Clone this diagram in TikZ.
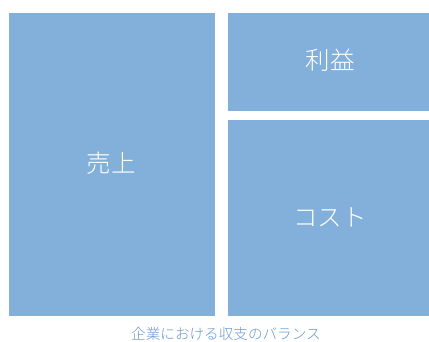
\documentclass[tikz,border=0pt]{standalone}
\usepackage{fontspec}
\newfontfamily\cjk{Noto Sans CJK JP Light}
\definecolor{boxblue}{HTML}{83AFDB}
\definecolor{captblue}{HTML}{6A97CE}
\begin{document}
\begin{tikzpicture}[x=1pt,y=-1pt,
  block/.style={fill=boxblue,draw=none,inner sep=0pt,outer sep=0pt},
  blocklabel/.style={text=white,font=\cjk\fontsize{24.5}{28}\selectfont},
  caption/.style={text=captblue,font=\cjk\fontsize{14.6}{17}\selectfont}]
\useasboundingbox (0,0) rectangle (429,342);
\fill[boxblue] (9,13) rectangle (215,316);
\fill[boxblue] (228,13) rectangle (429,111);
\fill[boxblue] (228,120) rectangle (429,316);
\node[blocklabel] (sales) at (111,163) {売上};
\node[blocklabel] (profit) at (330,60) {利益};
\node[blocklabel] (cost) at (330,217) {コスト};
\node[caption] (cap) at (226,334) {企業における収支のバランス};
\end{tikzpicture}
\end{document}
